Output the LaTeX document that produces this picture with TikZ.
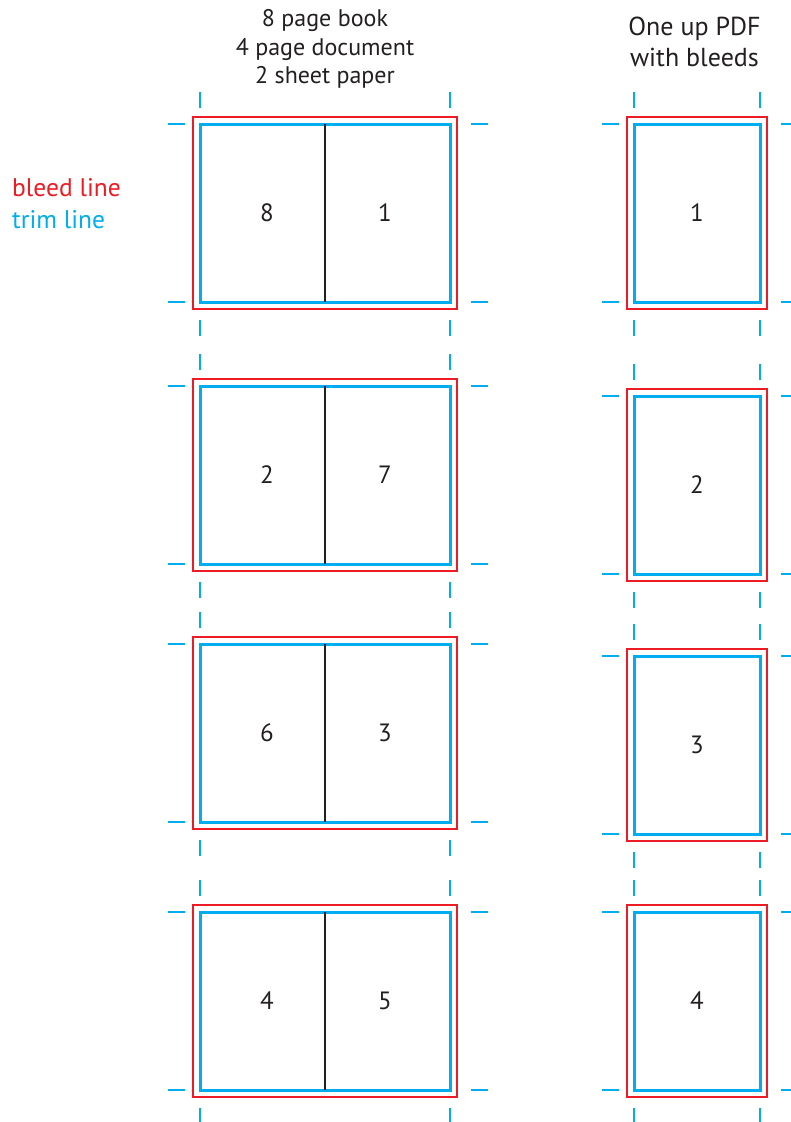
\documentclass[tikz,border=0pt]{standalone}
\usepackage{fontspec}
\setmainfont{PT Sans}
\usepackage{xcolor}
\usepackage{tikz}
\usetikzlibrary{calc,fit,positioning}
\definecolor{bleedred}{RGB}{237,28,36}
\definecolor{trimblue}{RGB}{0,174,239}
\definecolor{inkdark}{RGB}{35,31,32}
\tikzset{
  trimbox/.style={draw=trimblue,line width=3pt,outer sep=0pt,inner sep=0pt,minimum height=178pt},
  bleedframe/.style={draw=bleedred,line width=1.8pt,inner sep=7pt,outer sep=0pt},
  crop/.style={draw=trimblue,line width=1.3pt},
  fold/.style={draw=inkdark,line width=2pt},
  pagenum/.style={font=\fontsize{25}{30}\selectfont,text=inkdark,inner sep=0pt},
  heading/.style={font=\fontsize{24}{28.3}\selectfont,text=inkdark,align=center,inner sep=0pt},
  legend/.style={font=\fontsize{25.5}{31.6}\selectfont,inner sep=0pt,anchor=base west},
}
% crop marks round a trim box
\newcommand{\cropmarks}[1]{%
  \draw[crop] ([yshift=16pt]#1.north west) -- ++(0,16pt);
  \draw[crop] ([yshift=16pt]#1.north east) -- ++(0,16pt);
  \draw[crop] ([yshift=-18pt]#1.south west) -- ++(0,-16pt);
  \draw[crop] ([yshift=-18pt]#1.south east) -- ++(0,-16pt);
  \draw[crop] ([xshift=-15pt]#1.north west) -- ++(-17pt,0);
  \draw[crop] ([xshift=-15pt]#1.south west) -- ++(-17pt,0);
  \draw[crop] ([xshift=21pt]#1.north east) -- ++(17pt,0);
  \draw[crop] ([xshift=21pt]#1.south east) -- ++(17pt,0);
}

\begin{document}
\begin{tikzpicture}[x=1pt,y=-1pt]
  \useasboundingbox[fill=white] (0,0) rectangle (791,1122);
  % headings
  \node[heading,anchor=base] (book) at (325,26.7) {8 page book};
  \node[heading,anchor=base] (doc) at (325,55) {4 page document};
  \node[heading,anchor=base] (paper) at (325,83.3) {2 sheet paper};
  \node[heading,anchor=base,font=\fontsize{26}{32}\selectfont] (oneup) at (694.5,35) {One up PDF};
  \node[heading,anchor=base,font=\fontsize{26}{32}\selectfont] (withbl) at (694.5,66.7) {with bleeds};
  \node[legend,text=bleedred] (lbleed) at (12,196.7) {bleed line};
  \node[legend,text=trimblue] (ltrim) at (12,228.3) {trim line};
  % spreads
  \node[trimbox,minimum width=250pt] (sp81) at (325,213) {};
  \node[trimbox,minimum width=250pt] (sp27) at (325,475) {};
  \node[trimbox,minimum width=250pt] (sp63) at (325,733) {};
  \node[trimbox,minimum width=250pt] (sp45) at (325,1001) {};
  \node[bleedframe,fit=(sp81)] (bl81) {};
  \node[bleedframe,fit=(sp27)] (bl27) {};
  \node[bleedframe,fit=(sp63)] (bl63) {};
  \node[bleedframe,fit=(sp45)] (bl45) {};
  \foreach \s in {sp81,sp27,sp63,sp45} {
    \draw[fold] (\s.north) -- (\s.south);
    \cropmarks{\s}
  }
  \node[pagenum] (n8) at ([xshift=-58pt]sp81.center) {8};
  \node[pagenum] (n1) at ([xshift=60pt]sp81.center) {1};
  \node[pagenum] (n2) at ([xshift=-58pt]sp27.center) {2};
  \node[pagenum] (n7) at ([xshift=60pt]sp27.center) {7};
  \node[pagenum] (n6) at ([xshift=-58pt]sp63.center) {6};
  \node[pagenum] (n3) at ([xshift=60pt]sp63.center) {3};
  \node[pagenum] (n4) at ([xshift=-58pt]sp45.center) {4};
  \node[pagenum] (n5) at ([xshift=60pt]sp45.center) {5};
  % single pages
  \node[trimbox,minimum width=126pt,pagenum] (pg1) at (697,213) {1};
  \node[trimbox,minimum width=126pt,pagenum] (pg2) at (697,485) {2};
  \node[trimbox,minimum width=126pt,pagenum] (pg3) at (697,745) {3};
  \node[trimbox,minimum width=126pt,pagenum] (pg4) at (697,1001) {4};
  \node[bleedframe,fit=(pg1)] (bl1) {};
  \node[bleedframe,fit=(pg2)] (bl2) {};
  \node[bleedframe,fit=(pg3)] (bl3) {};
  \node[bleedframe,fit=(pg4)] (bl4) {};
  \foreach \p in {pg1,pg2,pg3,pg4} {
    \cropmarks{\p}
  }
\end{tikzpicture}
\end{document}
